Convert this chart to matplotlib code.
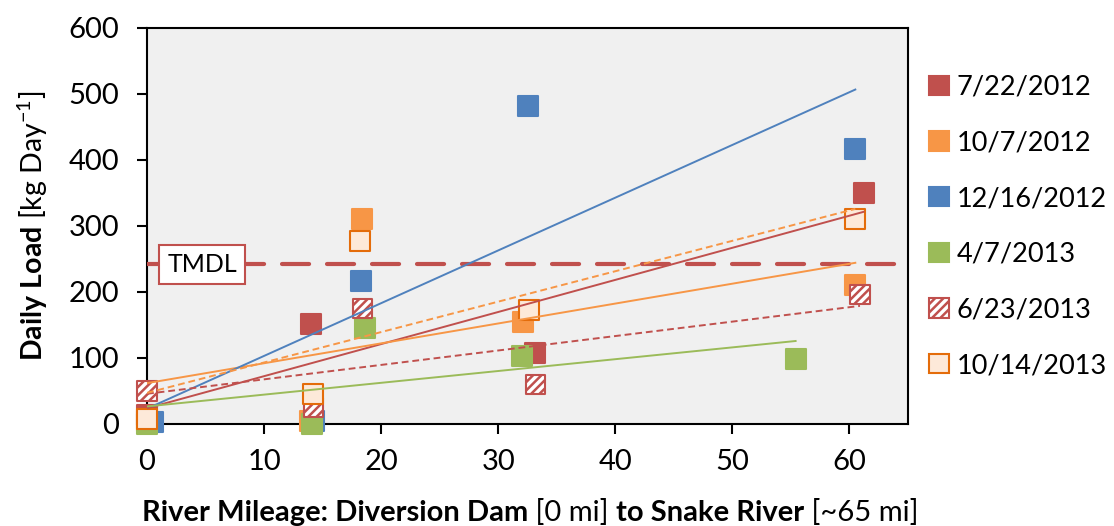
#!/usr/bin/env python3
"""Daily load vs river mileage, with linear trendlines and the TMDL limit."""

import matplotlib
matplotlib.use("Agg")
import matplotlib.pyplot as plt
from matplotlib.patches import Patch
import numpy as np

plt.rcParams['font.family'] = ['Lato', 'DejaVu Sans']
plt.rcParams['mathtext.fontset'] = 'custom'
plt.rcParams['mathtext.rm'] = 'Lato'
plt.rcParams['mathtext.bf'] = 'Lato:bold'
plt.rcParams['mathtext.it'] = 'Lato:italic'
plt.rcParams['hatch.linewidth'] = 1.8

# sampling dates
dates = ['7/22/2012', '10/7/2012', '12/16/2012', '4/7/2013', '6/23/2013', '10/14/2013']

# river mileage [mi] and daily load [kg/day] per sampling date
x_0722_2012 = [0.0, 14.0, 33.1, 61.2]
y_0722_2012 = [14, 151, 107, 350]

x_1007_2012 = [0.0, 13.9, 18.4, 32.1, 60.5]
y_1007_2012 = [5, 5, 311, 155, 210]

x_1216_2012 = [0.5, 14.3, 18.3, 32.5, 60.5]
y_1216_2012 = [3, 5, 217, 482, 417]

x_0407_2013 = [0.0, 14.1, 18.6, 32.0, 55.4]
y_0407_2013 = [0, 0, 146, 103, 99]

x_0623_2013 = [0.0, 14.2, 18.4, 33.2, 60.9]
y_0623_2013 = [50, 25, 175, 60, 196]

x_1014_2013 = [0.0, 14.2, 18.2, 32.6, 60.5]
y_1014_2013 = [8, 45, 277, 173, 311]

tmdl = 242

series = [
    # x, y, face, edge, hatch, trend style
    (x_0722_2012, y_0722_2012, '#C0504D', '#C0504D', None, '-'),
    (x_1007_2012, y_1007_2012, '#F79646', '#F79646', None, '-'),
    (x_1216_2012, y_1216_2012, '#4F81BD', '#4F81BD', None, '-'),
    (x_0407_2013, y_0407_2013, '#9BBB59', '#9BBB59', None, '-'),
    (x_0623_2013, y_0623_2013, 'white', '#C0504D', '////', '--'),
    (x_1014_2013, y_1014_2013, '#FDE9D9', '#E46C0A', None, '--'),
]
trend_colors = ['#C0504D', '#F79646', '#4F81BD', '#9BBB59', '#C0504D', '#F79646']

fig = plt.figure(figsize=(11.14, 5.26), dpi=100)
ax = fig.add_axes([147 / 1114, 1 - 424 / 526, (908 - 147) / 1114, (424 - 28) / 526])
ax.set_facecolor('#F0F0F0')

# markers
for i, (xs, ys, fc, ec, hatch, _) in enumerate(series):
    ax.scatter(xs, ys, s=195, marker='s', facecolor=fc, edgecolor=ec,
               linewidths=1.5, hatch=hatch, zorder=3 + i * 0.1, clip_on=False)

# linear trendlines (least squares, spanning each series' x range)
for (xs, ys, _, _, _, ls), col in zip(series, trend_colors):
    slope, icpt = np.polyfit(xs, ys, 1)
    xr = np.array([min(xs), max(xs)])
    style = (0, (3.5, 2.0)) if ls == '--' else '-'
    ax.plot(xr, slope * xr + icpt, color=col, lw=1.4, linestyle=style, zorder=5)

# TMDL line + tag
ax.axhline(tmdl, color='#C0504D', lw=3, linestyle=(0, (6.5, 4.3)),
           dash_capstyle='round', zorder=4)
ax.text(4.7, tmdl, 'TMDL', ha='center', va='center', fontsize=18, zorder=6,
        bbox=dict(boxstyle='square,pad=0.32', facecolor='white',
                  edgecolor='#C0504D', linewidth=1.5))

ax.set_xlim(0, 65)
ax.set_ylim(0, 600)
ax.set_xticks(range(0, 61, 10))
ax.set_yticks(range(0, 601, 100))
ax.tick_params(direction='out', length=7, width=1.5, labelsize=21)
ax.tick_params(axis='x', pad=11)
ax.tick_params(axis='y', pad=13)
for sp in ax.spines.values():
    sp.set_linewidth(1.5)
    sp.set_color('black')

ax.set_ylabel(r'$\mathbf{Daily\ Load}$ [kg Day$^{-1}$]', fontsize=20.5, labelpad=13)

# x label with mixed bold / regular pieces on a common baseline
pieces = [('River Mileage: Diversion Dam', 'bold'), (' [0 mi] ', 'normal'),
          ('to Snake River', 'bold'), (' [~65 mi]', 'normal')]
base_y = 5 / 526
prev = fig.text(142 / 1114, base_y, pieces[0][0], fontsize=21,
                fontweight=pieces[0][1], ha='left', va='baseline')
for txt, wt in pieces[1:]:
    prev = ax.annotate(txt, xy=(1, base_y), xycoords=(prev, 'figure fraction'),
                       fontsize=21, fontweight=wt, ha='left', va='baseline',
                       annotation_clip=False)

handles = [Patch(facecolor=fc, edgecolor=ec, hatch=h, linewidth=1.5)
           for (_, _, fc, ec, h, _) in series]
fig.legend(handles, dates, loc='upper left', bbox_to_anchor=(929 / 1114, 1 - 75 / 526),
           frameon=False, fontsize=19.5, handlelength=0.72, handleheight=0.72,
           handletextpad=0.3, labelspacing=1.13, borderpad=0, borderaxespad=0)

fig.savefig('out.png', dpi=100)
